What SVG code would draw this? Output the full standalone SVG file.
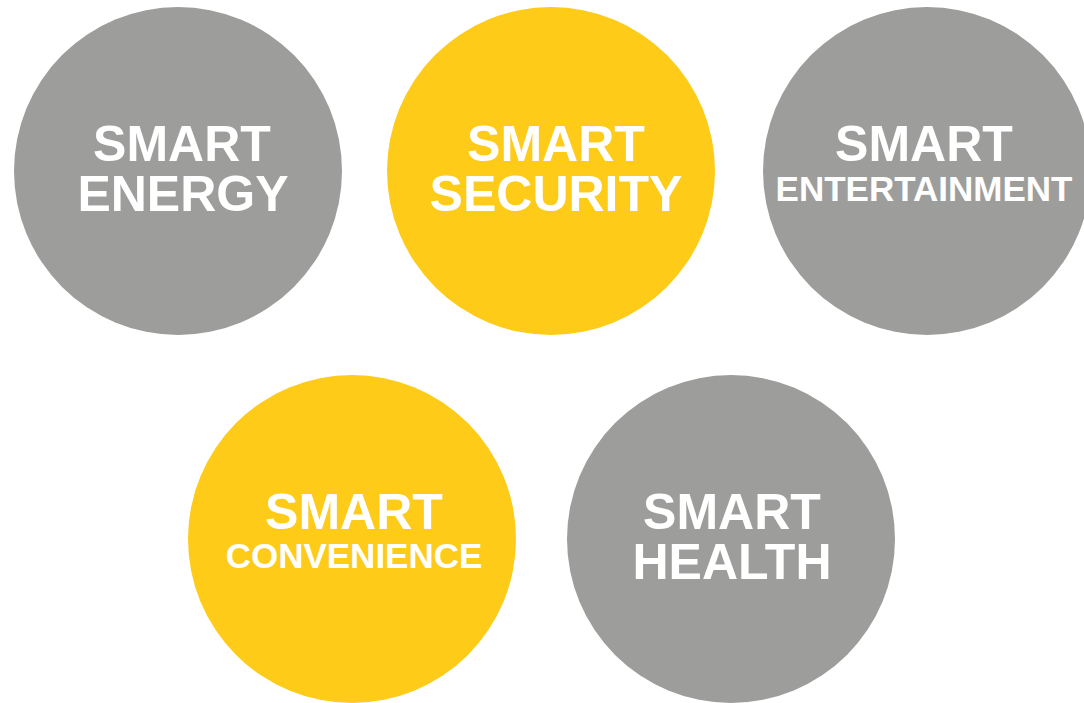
<svg xmlns="http://www.w3.org/2000/svg" width="1084" height="703" viewBox="0 0 1084 703">
<style>
.gray{fill:#9d9d9c}
.yellow{fill:#fdcb18}
text{font-family:"Liberation Sans",Arial,Helvetica,sans-serif;font-weight:bold;fill:#ffffff;text-anchor:middle}
.big{font-size:50px}
.small{font-size:35px}
</style>
<rect x="0" y="0" width="1084" height="703" fill="#ffffff"/>
<g id="connectors"></g>
<g id="smart-energy">
<circle class="gray" cx="178" cy="171" r="164"/>
<text class="big" x="182" y="161">SMART</text>
<text class="big" x="183" y="211">ENERGY</text>
</g>
<g id="smart-security">
<circle class="yellow" cx="551" cy="171" r="164"/>
<text class="big" x="556" y="161">SMART</text>
<text class="big" x="556" y="211">SECURITY</text>
</g>
<g id="smart-entertainment">
<circle class="gray" cx="927" cy="171" r="164"/>
<text class="big" x="924" y="161">SMART</text>
<text class="small" x="924" y="201">ENTERTAINMENT</text>
</g>
<g id="smart-convenience">
<circle class="yellow" cx="352" cy="539" r="164"/>
<text class="big" x="354" y="529">SMART</text>
<text class="small" x="354" y="568">CONVENIENCE</text>
</g>
<g id="smart-health">
<circle class="gray" cx="731" cy="539" r="164"/>
<text class="big" x="732" y="529">SMART</text>
<text class="big" x="732" y="579">HEALTH</text>
</g>
</svg>
